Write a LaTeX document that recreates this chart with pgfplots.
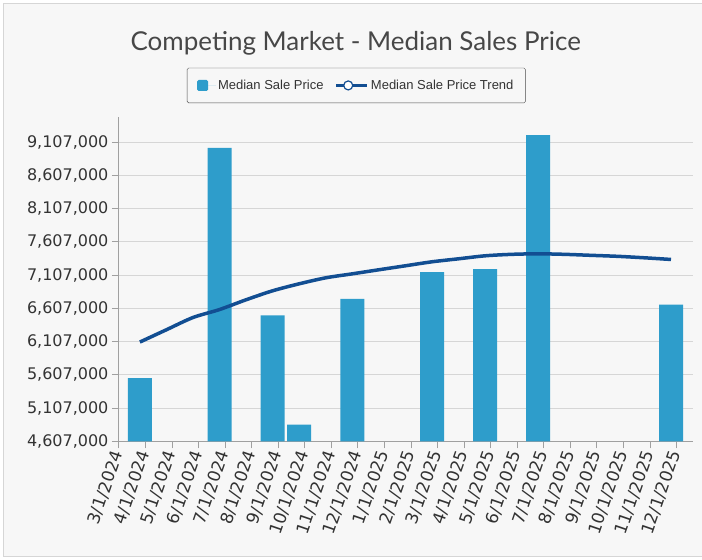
\documentclass[border=0pt]{standalone}
\usepackage{fontspec}
\setmainfont{DejaVu Sans}
\newfontfamily\legendfont{Liberation Sans}
\newfontfamily\titlefont{Lato}
\usepackage{pgfplots}
\pgfplotsset{compat=1.18}

\definecolor{barblue}{HTML}{2E9DCB}
\definecolor{trendblue}{HTML}{124E92}
\definecolor{bgcol}{HTML}{F7F7F7}
\definecolor{gridcol}{HTML}{D6D6D6}
\definecolor{axiscol}{HTML}{A0A0A0}
\definecolor{txtcol}{HTML}{333333}

\begin{document}
\begin{tikzpicture}[x=1bp,y=1bp]
% page and frame
\fill[white] (0,0) rectangle (702,560);
\fill[bgcol] (4,3) rectangle (702,556);
\draw[gridcol, line width=1bp] (4,3) -- (4,556) -- (702,556);
\draw[gridcol, line width=1bp] (4,3) -- (702,3);
\node[font=\titlefont\fontsize{26bp}{30bp}\selectfont, text=black!72] at (356,517) {Competing Market - Median Sales Price};

\begin{axis}[
    at={(119bp,118.3bp)}, anchor=south west,
    scale only axis,
    width=574bp, height=324.7bp,
    xmin=0, xmax=21.6,
    ymin=4607000, ymax=9487000,
    axis x line*=bottom, axis y line*=left,
    axis line style={axiscol, line width=1bp},
    xtick={0,...,21},
    xticklabels={3/1/2024,4/1/2024,5/1/2024,6/1/2024,7/1/2024,8/1/2024,9/1/2024,10/1/2024,11/1/2024,12/1/2024,1/1/2025,2/1/2025,3/1/2025,4/1/2025,5/1/2025,6/1/2025,7/1/2025,8/1/2025,9/1/2025,10/1/2025,11/1/2025,12/1/2025},
    x tick label style={rotate=71, anchor=east, font=\fontsize{17bp}{19bp}\selectfont, text=txtcol, inner sep=3bp},
    ytick={4607000,5107000,5607000,6107000,6607000,7107000,7607000,8107000,8607000,9107000},
    scaled y ticks=false,
    yticklabel style={font=\fontsize{16bp}{18bp}\selectfont, text=txtcol,
        /pgf/number format/fixed, /pgf/number format/1000 sep={,},
        /pgf/number format/assume math mode=true},
    ymajorgrids,
    grid style={gridcol, line width=1bp},
    major tick length=7bp,
    tick style={axiscol, line width=1bp},
    xtick align=outside, ytick align=outside,
    legend columns=2,
    legend style={at={(0.4138,1.097)}, anchor=center, draw=black!70, fill=bgcol,
        font=\legendfont\fontsize{13bp}{15bp}\selectfont, text=txtcol,
        inner xsep=10bp, inner ysep=10bp, rounded corners=1.5bp,
        /tikz/every even column/.append style={column sep=9bp}},
    legend cell align=left,
]
\addplot[ybar, bar width=24bp, bar shift=0pt, fill=barblue, draw=none,
    legend image code/.code={\path (0bp,0bp) -- (19bp,0bp);
        \fill[barblue] (0bp,-5.5bp) rectangle (11bp,5.5bp);}]
    coordinates {
    (0.79,5560000) (3.79,9021000) (5.79,6501000) (6.79,4858000) (8.79,6752000)
    (11.79,7153000) (13.79,7198000) (15.79,9212000) (20.79,6662000)
};
\addlegendentry{Median Sale Price}
\addplot[trendblue, line width=3.5bp, smooth, mark=none,
    legend image code/.code={\path (0bp,0bp) -- (31bp,0bp);
        \draw[trendblue, line width=1.5bp] (0bp,0bp) -- (24bp,0bp);
        \draw[trendblue, line width=1.2bp, fill=white] (12bp,0bp) circle (4.5bp);}]
    coordinates {
    (0.79,6101000) (1.79,6286000) (2.79,6470000) (3.79,6590000) (4.79,6737000)
    (5.79,6872000) (6.79,6977000) (7.79,7067000) (8.79,7127000) (9.79,7188000)
    (10.79,7248000) (11.79,7308000) (12.79,7353000) (13.79,7398000) (14.79,7420000)
    (15.79,7428000) (16.79,7420000) (17.79,7405000) (18.79,7390000) (19.79,7368000)
    (20.79,7343000)
};
\addlegendentry{Median Sale Price Trend}
\end{axis}
\end{tikzpicture}
\end{document}
